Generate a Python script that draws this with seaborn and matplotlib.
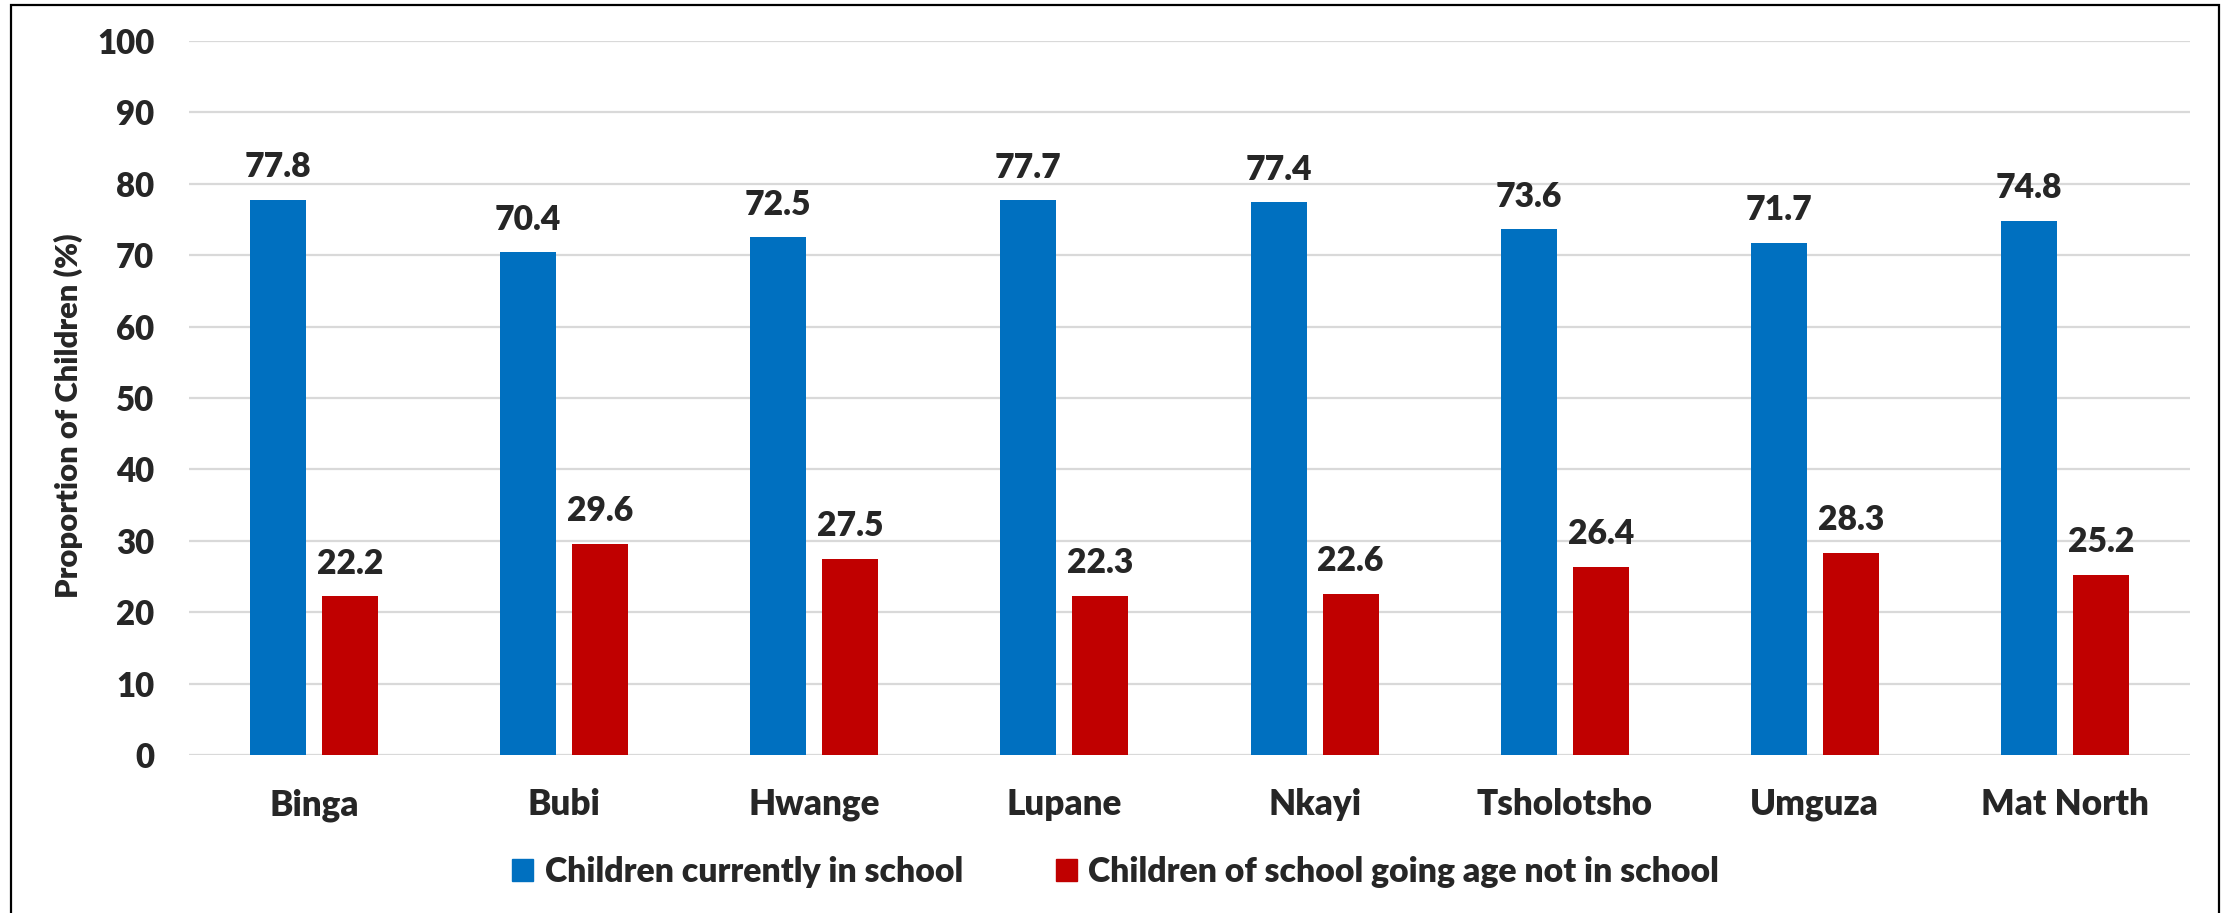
import matplotlib
matplotlib.use("Agg")
import matplotlib.pyplot as plt
import matplotlib.patches as mpatches
import seaborn as sns
import pandas as pd

categories = ["Binga", "Bubi", "Hwange", "Lupane", "Nkayi", "Tsholotsho", "Umguza", "Mat North"]
series_names = ["Children currently in school", "Children of school going age not in school"]
in_school = [77.8, 70.4, 72.5, 77.7, 77.4, 73.6, 71.7, 74.8]
not_in_school = [22.2, 29.6, 27.5, 22.3, 22.6, 26.4, 28.3, 25.2]
y_ticks = [0, 10, 20, 30, 40, 50, 60, 70, 80, 90, 100]
colors = ["#0070C0", "#C00000"]

df = pd.DataFrame({
    "District": categories * 2,
    "Series": [series_names[0]] * len(categories) + [series_names[1]] * len(categories),
    "Value": in_school + not_in_school,
})

sns.set_theme(style="white")
plt.rcParams["font.family"] = ["Lato", "DejaVu Sans"]
WT = "heavy"
plt.rcParams["font.weight"] = WT

W, H = 2231, 913
fig = plt.figure(figsize=(W / 100, H / 100), dpi=100)
ax = fig.add_axes([189 / W, 1 - 755 / H, (2190 - 189) / W, (755 - 41) / H])

sns.barplot(data=df, x="District", y="Value", hue="Series", order=categories,
            hue_order=series_names, palette=colors, saturation=1,
            width=0.576, gap=0.222, linewidth=0, ax=ax)

ax.set_ylim(0, 100)
ax.set_xlim(-0.5, len(categories) - 0.5)
ax.set_yticks(y_ticks)
ax.yaxis.grid(True, color="#D9D9D9", linewidth=1.6)
ax.set_axisbelow(True)
for s in ax.spines.values():
    s.set_visible(False)
ax.tick_params(axis="x", length=0, pad=24, labelsize=25.2)
ax.tick_params(axis="y", length=0, pad=25, labelsize=23.8)
for lab in ax.get_xticklabels() + ax.get_yticklabels():
    lab.set_fontweight(WT)
ax.set_xlabel("")
ax.set_ylabel("Proportion of Children (%)", fontsize=22.3, fontweight=WT)
ax.yaxis.set_label_coords(-0.053, 0.475)

for cont in ax.containers:
    ax.bar_label(cont, fmt="%.1f", padding=12, fontsize=24.2, fontweight=WT)

ax.get_legend().remove()
handles = [mpatches.Patch(color=c) for c in colors]
fig.legend(handles, series_names, loc="center", bbox_to_anchor=(0.5, 1 - 872 / H),
           ncol=2, frameon=False, prop={"size": 24.3, "weight": WT},
           handlelength=0.63, handleheight=0.63, handletextpad=0.33, columnspacing=2.75,
           borderpad=0, borderaxespad=0)

border = mpatches.Rectangle((11 / W, -0.05), (2219 - 11) / W, 1.05 - 5 / H,
                            transform=fig.transFigure, fill=False, edgecolor="black",
                            linewidth=1.6)
fig.patches.append(border)

fig.savefig("out.png", dpi=100)
